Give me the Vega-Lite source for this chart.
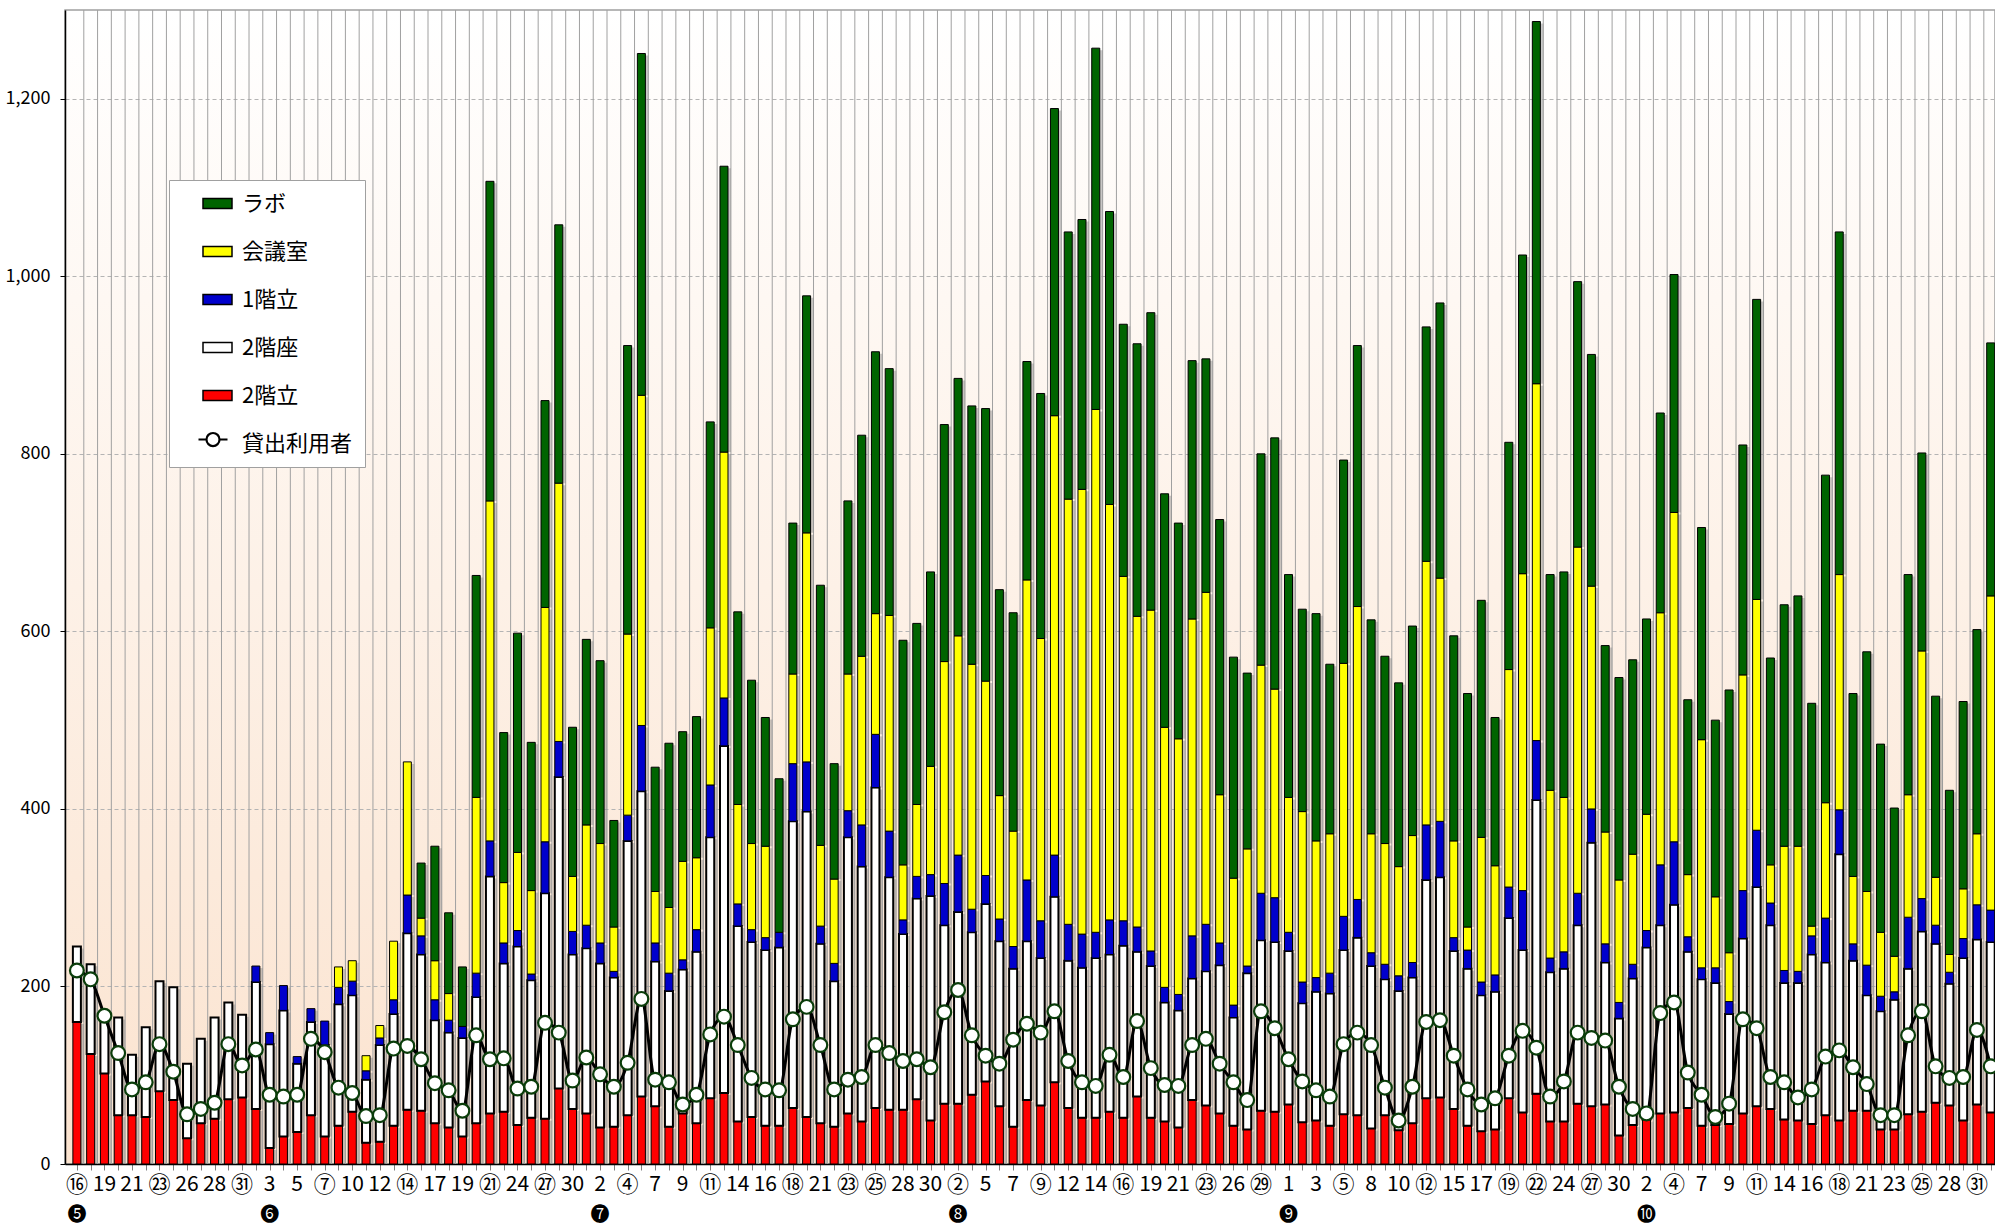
{
  "$schema": "https://vega.github.io/schema/vega-lite/v6.json",
  "width": 1930,
  "height": 1154,
  "autosize": {"type": "none"},
  "padding": {"left": 65, "top": 10, "right": 0, "bottom": 65},
  "background": "#ffffff",
  "config": {
    "font": "Noto Sans CJK JP",
    "view": {
      "stroke": "#a0a0a0",
      "strokeWidth": 1.5,
      "fill": {"gradient": "linear", "x1": 0, "y1": 0, "x2": 0, "y2": 1,
        "stops": [{"offset": 0, "color": "#ffffff"}, {"offset": 1, "color": "#fbe3cf"}]}
    }
  },
  "data": {"values": [
{"i":1,"d":"⑯","m":"❺","2階立":160,"2階座":85,"1階立":0,"会議室":0,"ラボ":0,"貸出利用者":218},
{"i":2,"2階立":124,"2階座":101,"1階立":0,"会議室":0,"ラボ":0,"貸出利用者":208},
{"i":3,"d":"19","2階立":102,"2階座":66,"1階立":0,"会議室":0,"ラボ":0,"貸出利用者":167},
{"i":4,"2階立":55,"2階座":110,"1階立":0,"会議室":0,"ラボ":0,"貸出利用者":125},
{"i":5,"d":"21","2階立":55,"2階座":68,"1階立":0,"会議室":0,"ラボ":0,"貸出利用者":84},
{"i":6,"2階立":53,"2階座":101,"1階立":0,"会議室":0,"ラボ":0,"貸出利用者":92},
{"i":7,"d":"㉓","2階立":82,"2階座":124,"1階立":0,"会議室":0,"ラボ":0,"貸出利用者":135},
{"i":8,"2階立":72,"2階座":127,"1階立":0,"会議室":0,"ラボ":0,"貸出利用者":104},
{"i":9,"d":"26","2階立":29,"2階座":84,"1階立":0,"会議室":0,"ラボ":0,"貸出利用者":56},
{"i":10,"2階立":46,"2階座":95,"1階立":0,"会議室":0,"ラボ":0,"貸出利用者":62},
{"i":11,"d":"28","2階立":51,"2階座":114,"1階立":0,"会議室":0,"ラボ":0,"貸出利用者":69},
{"i":12,"2階立":73,"2階座":109,"1階立":0,"会議室":0,"ラボ":0,"貸出利用者":135},
{"i":13,"d":"㉛","2階立":75,"2階座":93,"1階立":0,"会議室":0,"ラボ":0,"貸出利用者":111},
{"i":14,"2階立":62,"2階座":143,"1階立":18,"会議室":0,"ラボ":0,"貸出利用者":129},
{"i":15,"d":"3","m":"❻","2階立":18,"2階座":117,"1階立":13,"会議室":0,"ラボ":0,"貸出利用者":78},
{"i":16,"2階立":31,"2階座":142,"1階立":28,"会議室":0,"ラボ":0,"貸出利用者":76},
{"i":17,"d":"5","2階立":36,"2階座":77,"1階立":8,"会議室":0,"ラボ":0,"貸出利用者":78},
{"i":18,"2階立":55,"2階座":105,"1階立":15,"会議室":0,"ラボ":0,"貸出利用者":141},
{"i":19,"d":"⑦","2階立":31,"2階座":103,"1階立":27,"会議室":0,"ラボ":0,"貸出利用者":126},
{"i":20,"2階立":43,"2階座":137,"1階立":19,"会議室":23,"ラボ":0,"貸出利用者":86},
{"i":21,"d":"10","2階立":59,"2階座":131,"1階立":16,"会議室":23,"ラボ":0,"貸出利用者":80},
{"i":22,"2階立":24,"2階座":71,"1階立":10,"会議室":17,"ラボ":0,"貸出利用者":54},
{"i":23,"d":"12","2階立":25,"2階座":109,"1階立":8,"会議室":14,"ラボ":0,"貸出利用者":55},
{"i":24,"2階立":43,"2階座":126,"1階立":16,"会議室":66,"ラボ":0,"貸出利用者":130},
{"i":25,"d":"⑭","2階立":61,"2階座":199,"1階立":43,"会議室":150,"ラボ":0,"貸出利用者":133},
{"i":26,"2階立":60,"2階座":176,"1階立":21,"会議室":20,"ラボ":62,"貸出利用者":118},
{"i":27,"d":"17","2階立":46,"2階座":116,"1階立":23,"会議室":44,"ラボ":129,"貸出利用者":91},
{"i":28,"2階立":41,"2階座":107,"1階立":14,"会議室":30,"ラボ":91,"貸出利用者":83},
{"i":29,"d":"19","2階立":31,"2階座":111,"1階立":13,"会議室":0,"ラボ":67,"貸出利用者":60},
{"i":30,"2階立":46,"2階座":142,"1階立":27,"会議室":198,"ラボ":250,"貸出利用者":145},
{"i":31,"d":"㉑","2階立":57,"2階座":267,"1階立":40,"会議室":383,"ラボ":360,"貸出利用者":118},
{"i":32,"2階立":59,"2階座":167,"1階立":23,"会議室":68,"ラボ":169,"貸出利用者":119},
{"i":33,"d":"24","2階立":44,"2階座":201,"1階立":18,"会議室":88,"ラボ":247,"貸出利用者":85},
{"i":34,"2階立":52,"2階座":155,"1階立":7,"会議室":94,"ラボ":167,"貸出利用者":87},
{"i":35,"d":"㉗","2階立":51,"2階座":254,"1階立":58,"会議室":264,"ラボ":233,"貸出利用者":159},
{"i":36,"2階立":85,"2階座":351,"1階立":40,"会議室":291,"ラボ":291,"貸出利用者":148},
{"i":37,"d":"30","2階立":62,"2階座":174,"1階立":26,"会議室":62,"ラボ":168,"貸出利用者":94},
{"i":38,"2階立":57,"2階座":186,"1階立":26,"会議室":113,"ラボ":209,"貸出利用者":120},
{"i":39,"d":"2","m":"❼","2階立":41,"2階座":185,"1階立":23,"会議室":112,"ラボ":206,"貸出利用者":101},
{"i":40,"2階立":42,"2階座":168,"1階立":7,"会議室":50,"ラボ":120,"貸出利用者":87},
{"i":41,"d":"④","2階立":55,"2階座":309,"1階立":29,"会議室":204,"ラボ":325,"貸出利用者":114},
{"i":42,"2階立":76,"2階座":344,"1階立":74,"会議室":372,"ラボ":385,"貸出利用者":186},
{"i":43,"d":"7","2階立":65,"2階座":163,"1階立":21,"会議室":58,"ラボ":140,"貸出利用者":95},
{"i":44,"2階立":42,"2階座":153,"1階立":20,"会議室":74,"ラボ":185,"貸出利用者":92},
{"i":45,"d":"9","2階立":57,"2階座":162,"1階立":11,"会議室":111,"ラボ":146,"貸出利用者":67},
{"i":46,"2階立":46,"2階座":193,"1階立":25,"会議室":81,"ラボ":159,"貸出利用者":78},
{"i":47,"d":"⑪","2階立":74,"2階座":294,"1階立":59,"会議室":177,"ラボ":232,"貸出利用者":146},
{"i":48,"2階立":80,"2階座":391,"1階立":54,"会議室":277,"ラボ":322,"貸出利用者":166},
{"i":49,"d":"14","2階立":48,"2階座":220,"1階立":25,"会議室":112,"ラボ":217,"貸出利用者":134},
{"i":50,"2階立":53,"2階座":197,"1階立":14,"会議室":97,"ラボ":184,"貸出利用者":97},
{"i":51,"d":"16","2階立":43,"2階座":198,"1階立":14,"会議室":103,"ラボ":145,"貸出利用者":84},
{"i":52,"2階立":43,"2階座":201,"1階立":17,"会議室":0,"ラボ":173,"貸出利用者":83},
{"i":53,"d":"⑱","2階立":63,"2階座":323,"1階立":65,"会議室":101,"ラボ":170,"貸出利用者":163},
{"i":54,"2階立":53,"2階座":344,"1階立":56,"会議室":258,"ラボ":267,"貸出利用者":177},
{"i":55,"d":"21","2階立":46,"2階座":202,"1階立":20,"会議室":91,"ラボ":293,"貸出利用者":134},
{"i":56,"2階立":42,"2階座":164,"1階立":20,"会議室":95,"ラボ":130,"貸出利用者":84},
{"i":57,"d":"㉓","2階立":57,"2階座":311,"1階立":30,"会議室":154,"ラボ":195,"貸出利用者":95},
{"i":58,"2階立":48,"2階座":287,"1階立":47,"会議室":190,"ラボ":249,"貸出利用者":98},
{"i":59,"d":"㉕","2階立":63,"2階座":361,"1階立":60,"会議室":136,"ラボ":295,"貸出利用者":134},
{"i":60,"2階立":61,"2階座":262,"1階立":52,"会議室":243,"ラボ":278,"貸出利用者":125},
{"i":61,"d":"28","2階立":61,"2階座":198,"1階立":16,"会議室":62,"ラボ":253,"貸出利用者":116},
{"i":62,"2階立":73,"2階座":226,"1階立":25,"会議室":81,"ラボ":204,"貸出利用者":118},
{"i":63,"d":"30","2階立":49,"2階座":253,"1階立":24,"会議室":122,"ラボ":219,"貸出利用者":109},
{"i":64,"2階立":68,"2階座":201,"1階立":47,"会議室":250,"ラボ":267,"貸出利用者":171},
{"i":65,"d":"②","m":"❽","2階立":68,"2階座":216,"1階立":64,"会議室":247,"ラボ":290,"貸出利用者":196},
{"i":66,"2階立":78,"2階座":183,"1階立":26,"会議室":276,"ラボ":291,"貸出利用者":145},
{"i":67,"d":"5","2階立":93,"2階座":200,"1階立":32,"会議室":219,"ラボ":307,"貸出利用者":122},
{"i":68,"2階立":65,"2階座":186,"1階立":25,"会議室":139,"ラボ":232,"貸出利用者":113},
{"i":69,"d":"7","2階立":42,"2階座":178,"1階立":25,"会議室":130,"ラボ":246,"貸出利用者":140},
{"i":70,"2階立":72,"2階座":179,"1階立":69,"会議室":338,"ラボ":246,"貸出利用者":158},
{"i":71,"d":"⑨","2階立":66,"2階座":166,"1階立":42,"会議室":318,"ラボ":276,"貸出利用者":148},
{"i":72,"2階立":92,"2階座":209,"1階立":47,"会議室":495,"ラボ":346,"貸出利用者":172},
{"i":73,"d":"12","2階立":63,"2階座":166,"1階立":41,"会議室":479,"ラボ":301,"貸出利用者":116},
{"i":74,"2階立":52,"2階座":169,"1階立":38,"会議室":501,"ラボ":304,"貸出利用者":92},
{"i":75,"d":"14","2階立":52,"2階座":180,"1階立":29,"会議室":589,"ラボ":407,"貸出利用者":88},
{"i":76,"2階立":59,"2階座":177,"1階立":39,"会議室":468,"ラボ":330,"貸出利用者":123},
{"i":77,"d":"⑯","2階立":52,"2階座":194,"1階立":28,"会議室":388,"ラボ":284,"貸出利用者":98},
{"i":78,"2階立":76,"2階座":163,"1階立":28,"会議室":350,"ラボ":307,"貸出利用者":161},
{"i":79,"d":"19","2階立":52,"2階座":171,"1階立":17,"会議室":384,"ラボ":335,"貸出利用者":108},
{"i":80,"2階立":48,"2階座":134,"1階立":17,"会議室":293,"ラボ":263,"貸出利用者":89},
{"i":81,"d":"21","2階立":41,"2階座":132,"1階立":18,"会議室":288,"ラボ":243,"貸出利用者":88},
{"i":82,"2階立":72,"2階座":137,"1階立":48,"会議室":357,"ラボ":291,"貸出利用者":134},
{"i":83,"d":"㉓","2階立":66,"2階座":151,"1階立":53,"会議室":374,"ラボ":263,"貸出利用者":141},
{"i":84,"2階立":57,"2階座":167,"1階立":25,"会議室":167,"ラボ":310,"貸出利用者":113},
{"i":85,"d":"26","2階立":43,"2階座":122,"1階立":14,"会議室":143,"ラボ":249,"貸出利用者":92},
{"i":86,"2階立":39,"2階座":176,"1階立":8,"会議室":132,"ラボ":198,"貸出利用者":72},
{"i":87,"d":"㉙","2階立":60,"2階座":192,"1階立":53,"会議室":257,"ラボ":238,"貸出利用者":172},
{"i":88,"2階立":59,"2階座":191,"1階立":50,"会議室":235,"ラボ":283,"貸出利用者":153},
{"i":89,"d":"1","m":"❾","2階立":67,"2階座":173,"1階立":21,"会議室":152,"ラボ":251,"貸出利用者":118},
{"i":90,"2階立":47,"2階座":134,"1階立":24,"会議室":192,"ラボ":228,"貸出利用者":93},
{"i":91,"d":"3","2階立":49,"2階座":145,"1階立":16,"会議室":154,"ラボ":256,"貸出利用者":83},
{"i":92,"2階立":43,"2階座":149,"1階立":23,"会議室":157,"ラボ":191,"貸出利用者":76},
{"i":93,"d":"⑤","2階立":56,"2階座":185,"1階立":38,"会議室":285,"ラボ":229,"貸出利用者":135},
{"i":94,"2階立":55,"2階座":200,"1階立":43,"会議室":330,"ラボ":294,"貸出利用者":148},
{"i":95,"d":"8","2階立":40,"2階座":183,"1階立":15,"会議室":134,"ラボ":241,"貸出利用者":134},
{"i":96,"2階立":55,"2階座":153,"1階立":17,"会議室":136,"ラボ":211,"貸出利用者":86},
{"i":97,"d":"10","2階立":38,"2階座":157,"1階立":17,"会議室":123,"ラボ":207,"貸出利用者":49},
{"i":98,"2階立":46,"2階座":164,"1階立":17,"会議室":143,"ラボ":236,"貸出利用者":87},
{"i":99,"d":"⑫","2階立":74,"2階座":246,"1階立":62,"会議室":297,"ラボ":264,"貸出利用者":160},
{"i":100,"2階立":75,"2階座":248,"1階立":63,"会議室":274,"ラボ":310,"貸出利用者":162},
{"i":101,"d":"15","2階立":62,"2階座":178,"1階立":15,"会議室":109,"ラボ":231,"貸出利用者":122},
{"i":102,"2階立":43,"2階座":177,"1階立":21,"会議室":26,"ラボ":263,"貸出利用者":84},
{"i":103,"d":"17","2階立":37,"2階座":153,"1階立":15,"会議室":163,"ラボ":267,"貸出利用者":67},
{"i":104,"2階立":39,"2階座":155,"1階立":19,"会議室":123,"ラボ":167,"貸出利用者":74},
{"i":105,"d":"⑲","2階立":74,"2階座":203,"1階立":35,"会議室":245,"ラボ":256,"貸出利用者":122},
{"i":106,"2階立":58,"2階座":183,"1階立":67,"会議室":357,"ラボ":359,"貸出利用者":150},
{"i":107,"d":"㉒","2階立":79,"2階座":331,"1階立":67,"会議室":402,"ラボ":408,"貸出利用者":131},
{"i":108,"2階立":48,"2階座":168,"1階立":16,"会議室":189,"ラボ":243,"貸出利用者":76},
{"i":109,"d":"24","2階立":48,"2階座":172,"1階立":19,"会議室":174,"ラボ":254,"貸出利用者":93},
{"i":110,"2階立":68,"2階座":201,"1階立":36,"会議室":390,"ラボ":299,"貸出利用者":148},
{"i":111,"d":"㉗","2階立":65,"2階座":297,"1階立":38,"会議室":251,"ラボ":261,"貸出利用者":142},
{"i":112,"2階立":67,"2階座":160,"1階立":21,"会議室":126,"ラボ":210,"貸出利用者":139},
{"i":113,"d":"30","2階立":32,"2階座":132,"1階立":18,"会議室":138,"ラボ":228,"貸出利用者":87},
{"i":114,"2階立":44,"2階座":165,"1階立":16,"会議室":124,"ラボ":219,"貸出利用者":62},
{"i":115,"d":"2","m":"❿","2階立":50,"2階座":194,"1階立":19,"会議室":131,"ラボ":220,"貸出利用者":57},
{"i":116,"2階立":57,"2階座":212,"1階立":68,"会議室":284,"ラボ":225,"貸出利用者":170},
{"i":117,"d":"④","2階立":58,"2階座":234,"1階立":71,"会議室":371,"ラボ":268,"貸出利用者":182},
{"i":118,"2階立":63,"2階座":176,"1階立":17,"会議室":70,"ラボ":197,"貸出利用者":103},
{"i":119,"d":"7","2階立":43,"2階座":165,"1階立":13,"会議室":257,"ラボ":239,"貸出利用者":78},
{"i":120,"2階立":44,"2階座":160,"1階立":17,"会議室":80,"ラボ":199,"貸出利用者":53},
{"i":121,"d":"9","2階立":45,"2階座":124,"1階立":14,"会議室":55,"ラボ":296,"貸出利用者":68},
{"i":122,"2階立":57,"2階座":197,"1階立":54,"会議室":243,"ラボ":259,"貸出利用者":163},
{"i":123,"d":"⑪","2階立":65,"2階座":247,"1階立":64,"会議室":260,"ラボ":338,"貸出利用者":153},
{"i":124,"2階立":62,"2階座":207,"1階立":25,"会議室":43,"ラボ":233,"貸出利用者":98},
{"i":125,"d":"14","2階立":50,"2階座":154,"1階立":14,"会議室":140,"ラボ":272,"貸出利用者":92},
{"i":126,"2階立":49,"2階座":155,"1階立":13,"会議室":141,"ラボ":282,"貸出利用者":75},
{"i":127,"d":"16","2階立":45,"2階座":191,"1階立":21,"会議室":11,"ラボ":251,"貸出利用者":84},
{"i":128,"2階立":55,"2階座":172,"1階立":50,"会議室":130,"ラボ":369,"貸出利用者":121},
{"i":129,"d":"⑱","2階立":49,"2階座":300,"1階立":50,"会議室":265,"ラボ":386,"貸出利用者":128},
{"i":130,"2階立":60,"2階座":169,"1階立":19,"会議室":76,"ラボ":206,"貸出利用者":109},
{"i":131,"d":"21","2階立":60,"2階座":130,"1階立":34,"会議室":83,"ラボ":270,"貸出利用者":90},
{"i":132,"2階立":39,"2階座":133,"1階立":17,"会議室":72,"ラボ":212,"貸出利用者":55},
{"i":133,"d":"23","2階立":39,"2階座":146,"1階立":9,"会議室":40,"ラボ":167,"貸出利用者":55},
{"i":134,"2階立":56,"2階座":164,"1階立":58,"会議室":138,"ラボ":248,"貸出利用者":145},
{"i":135,"d":"㉕","2階立":59,"2階座":203,"1階立":37,"会議室":279,"ラボ":223,"貸出利用者":172},
{"i":136,"2階立":69,"2階座":179,"1階立":21,"会議室":54,"ラボ":204,"貸出利用者":110},
{"i":137,"d":"28","2階立":66,"2階座":137,"1階立":13,"会議室":20,"ラボ":185,"貸出利用者":97},
{"i":138,"2階立":49,"2階座":183,"1階立":22,"会議室":56,"ラボ":211,"貸出利用者":98},
{"i":139,"d":"㉛","2階立":67,"2階座":186,"1階立":39,"会議室":80,"ラボ":230,"貸出利用者":151},
{"i":140,"2階立":58,"2階座":192,"1階立":36,"会議室":354,"ラボ":285,"貸出利用者":110}
  ]},
  "layer": [
    {
      "mark": {"type": "rule", "xOffset": 6.92, "color": "#a0a0a0", "strokeWidth": 1, "clip": true},
      "encoding": {
        "x": {"field": "i", "type": "quantitative", "title": null, "scale": {"type": "linear", "domain": [0.5, 139.95], "nice": false, "zero": false},
          "axis": {"title": null, "labels": false, "tickCount": 140, "ticks": true, "tickSize": 6, "tickColor": "#808080", "tickWidth": 1, "domainColor": "#000000", "domainWidth": 1.5, "grid": false}}
      }
    },
    {
      "transform": [
        {"fold": ["2階立", "2階座", "1階立", "会議室", "ラボ"], "as": ["key", "v"]},
        {"filter": "datum.v > 0"},
        {"window": [{"op": "row_number", "as": "k"}], "groupby": ["i"]},
        {"stack": "v", "groupby": ["i"], "sort": [{"field": "k", "order": "ascending"}], "as": ["v0", "v1"]}
      ],
      "layer": [
        {
          "mark": {"type": "bar", "width": 8, "color": "#8a8a8a", "opacity": 0.45, "xOffset": 3, "yOffset": 2, "clip": true},
          "encoding": {
            "x": {"field": "i", "type": "quantitative", "title": null, "scale": {"type": "linear", "domain": [0.5, 139.95], "nice": false, "zero": false},
              "axis": {"title": null, "labels": false, "tickCount": 140, "ticks": true, "tickSize": 6, "tickColor": "#808080", "tickWidth": 1, "domainColor": "#000000", "domainWidth": 1.5, "grid": false}},
            "y": {"field": "v1", "type": "quantitative", "title": null, "scale": {"domain": [0, 1300], "nice": false},
              "axis": {"title": null, "values": [0, 200, 400, 600, 800, 1000, 1200], "format": ",d", "labelFont": "Noto Sans CJK JP", "labelFontSize": 18, "labelColor": "#000000", "labelPadding": 10, "tickSize": 5, "tickColor": "#000000", "domainColor": "#000000", "domainWidth": 1.5, "grid": true, "gridColor": "#b4b4b4", "gridDash": [4, 3], "gridWidth": 1}},
            "y2": {"field": "v0"}
          }
        },
        {
          "mark": {"type": "bar", "width": 8, "stroke": "#000000", "opacity": 1, "clip": true},
          "encoding": {
            "x": {"field": "i", "type": "quantitative", "title": null, "scale": {"type": "linear", "domain": [0.5, 139.95], "nice": false, "zero": false},
              "axis": {"title": null, "labels": false, "tickCount": 140, "ticks": true, "tickSize": 6, "tickColor": "#808080", "tickWidth": 1, "domainColor": "#000000", "domainWidth": 1.5, "grid": false}},
            "y": {"field": "v1", "type": "quantitative", "title": null, "scale": {"domain": [0, 1300], "nice": false},
              "axis": {"title": null, "values": [0, 200, 400, 600, 800, 1000, 1200], "format": ",d", "labelFont": "Noto Sans CJK JP", "labelFontSize": 18, "labelColor": "#000000", "labelPadding": 10, "tickSize": 5, "tickColor": "#000000", "domainColor": "#000000", "domainWidth": 1.5, "grid": true, "gridColor": "#b4b4b4", "gridDash": [4, 3], "gridWidth": 1}},
            "y2": {"field": "v0"},
            "color": {"field": "key", "type": "nominal",
              "scale": {"domain": ["ラボ", "会議室", "1階立", "2階座", "2階立", "貸出利用者"], "range": ["#006400", "#ffff00", "#0000cc", "#ffffff", "#ff0000", "#ffffff"]},
              "legend": {
                "title": null, "orient": "none", "legendX": 104, "legendY": 170,
                "fillColor": "#ffffff", "strokeColor": "#a0a0a0", "padding": 12.5,
                "labelFont": "Noto Sans CJK JP", "labelFontSize": 22, "labelColor": "#000000",
                "symbolType": "M-2.9,-1H2.9V1H-2.9Z", "symbolStrokeColor": "#000000", "symbolStrokeWidth": 1.5,
                "symbolSize": 100, "symbolOffset": 25, "labelOffset": 13.5, "rowPadding": 26
              }},
            "strokeWidth": {"condition": {"test": "datum.key === '2階座'", "value": 2}, "value": 1}
          }
        }
      ]
    },
    {
      "mark": {"type": "line", "interpolate": "monotone", "strokeWidth": 3, "clip": true},
      "encoding": {
        "x": {"field": "i", "type": "quantitative", "title": null, "scale": {"type": "linear", "domain": [0.5, 139.95], "nice": false, "zero": false},
          "axis": {"title": null, "labels": false, "tickCount": 140, "ticks": true, "tickSize": 6, "tickColor": "#808080", "tickWidth": 1, "domainColor": "#000000", "domainWidth": 1.5, "grid": false}},
        "y": {"field": "貸出利用者", "type": "quantitative", "title": null, "scale": {"domain": [0, 1300], "nice": false},
          "axis": {"title": null, "values": [0, 200, 400, 600, 800, 1000, 1200], "format": ",d", "labelFont": "Noto Sans CJK JP", "labelFontSize": 18, "labelColor": "#000000", "labelPadding": 10, "tickSize": 5, "tickColor": "#000000", "domainColor": "#000000", "domainWidth": 1.5, "grid": true, "gridColor": "#b4b4b4", "gridDash": [4, 3], "gridWidth": 1}},
        "stroke": {"datum": "貸出利用者", "type": "nominal", "scale": {"range": ["#000000"]},
          "legend": {
            "title": null, "orient": "none", "legendX": 130, "legendY": 411.5,
            "fillColor": "#ffffff", "strokeColor": "transparent", "padding": 2,
            "symbolType": "M-1,0H-0.45M0.45,0H1M-0.45,0A0.45,0.45,0,1,1,0.45,0A0.45,0.45,0,1,1,-0.45,0",
            "symbolSize": 841, "symbolFillColor": "#ffffff", "symbolStrokeColor": "#000000", "symbolStrokeWidth": 2.2,
            "symbolOffset": 0, "labelOffset": 0, "labelExpr": "''", "labelFontSize": 10
          }}
      }
    },
    {
      "mark": {"type": "point", "filled": true, "fill": "#ffffff", "stroke": "#0a3d0a", "strokeWidth": 2.2, "size": 190, "opacity": 1, "clip": true},
      "encoding": {
        "x": {"field": "i", "type": "quantitative", "title": null, "scale": {"type": "linear", "domain": [0.5, 139.95], "nice": false, "zero": false},
          "axis": {"title": null, "labels": false, "tickCount": 140, "ticks": true, "tickSize": 6, "tickColor": "#808080", "tickWidth": 1, "domainColor": "#000000", "domainWidth": 1.5, "grid": false}},
        "y": {"field": "貸出利用者", "type": "quantitative", "title": null, "scale": {"domain": [0, 1300], "nice": false},
          "axis": {"title": null, "values": [0, 200, 400, 600, 800, 1000, 1200], "format": ",d", "labelFont": "Noto Sans CJK JP", "labelFontSize": 18, "labelColor": "#000000", "labelPadding": 10, "tickSize": 5, "tickColor": "#000000", "domainColor": "#000000", "domainWidth": 1.5, "grid": true, "gridColor": "#b4b4b4", "gridDash": [4, 3], "gridWidth": 1}}
      }
    },
    {
      "transform": [{"filter": "isString(datum.d)"}],
      "mark": {"type": "text", "font": "Noto Sans CJK JP", "dy": 21, "baseline": "middle", "align": "center", "color": "#000000"},
      "encoding": {
        "x": {"field": "i", "type": "quantitative", "title": null, "scale": {"type": "linear", "domain": [0.5, 139.95], "nice": false, "zero": false},
          "axis": {"title": null, "labels": false, "tickCount": 140, "ticks": true, "tickSize": 6, "tickColor": "#808080", "tickWidth": 1, "domainColor": "#000000", "domainWidth": 1.5, "grid": false}},
        "y": {"datum": 0, "type": "quantitative", "title": null, "scale": {"domain": [0, 1300], "nice": false},
          "axis": {"title": null, "values": [0, 200, 400, 600, 800, 1000, 1200], "format": ",d", "labelFont": "Noto Sans CJK JP", "labelFontSize": 18, "labelColor": "#000000", "labelPadding": 10, "tickSize": 5, "tickColor": "#000000", "domainColor": "#000000", "domainWidth": 1.5, "grid": true, "gridColor": "#b4b4b4", "gridDash": [4, 3], "gridWidth": 1}},
        "text": {"field": "d"},
        "size": {"condition": {"test": "test(/[①-⑳㉑-㉟]/, datum.d)", "value": 22}, "value": 21}
      }
    },
    {
      "transform": [{"filter": "isString(datum.m)"}],
      "mark": {"type": "text", "font": "Noto Sans CJK JP", "fontSize": 19, "dy": 51, "baseline": "middle", "align": "center", "color": "#000000"},
      "encoding": {
        "x": {"field": "i", "type": "quantitative", "title": null, "scale": {"type": "linear", "domain": [0.5, 139.95], "nice": false, "zero": false},
          "axis": {"title": null, "labels": false, "tickCount": 140, "ticks": true, "tickSize": 6, "tickColor": "#808080", "tickWidth": 1, "domainColor": "#000000", "domainWidth": 1.5, "grid": false}},
        "y": {"datum": 0, "type": "quantitative", "title": null, "scale": {"domain": [0, 1300], "nice": false},
          "axis": {"title": null, "values": [0, 200, 400, 600, 800, 1000, 1200], "format": ",d", "labelFont": "Noto Sans CJK JP", "labelFontSize": 18, "labelColor": "#000000", "labelPadding": 10, "tickSize": 5, "tickColor": "#000000", "domainColor": "#000000", "domainWidth": 1.5, "grid": true, "gridColor": "#b4b4b4", "gridDash": [4, 3], "gridWidth": 1}},
        "text": {"field": "m"}
      }
    }
  ]
}
